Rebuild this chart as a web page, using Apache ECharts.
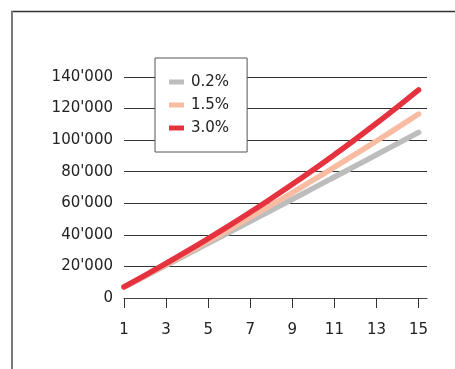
<!DOCTYPE html>
<html>
<head>
<meta charset="utf-8">
<script src="https://cdn.jsdelivr.net/npm/echarts@6/dist/echarts.min.js"></script>
<style>
  html, body { margin: 0; padding: 0; background: #fff; }
  #chart { width: 455px; height: 369px; }
</style>
</head>
<body>
<div id="chart"></div>
<script>
// years 1..15
const years = [1, 2, 3, 4, 5, 6, 7, 8, 9, 10, 11, 12, 13, 14, 15];
const xTicks = [1, 3, 5, 7, 9, 11, 13, 15];

// accumulated balance per rate
const rate02 = [6897, 13807, 20732, 27670, 34622, 41588, 48567, 55560, 62567, 69589, 76624, 83679, 90742, 97819, 104912];
const rate15 = [6986, 14077, 21275, 28580, 35995, 43521, 51160, 58914, 66784, 74771, 82878, 91108, 99461, 107939, 116545];
const rate30 = [7089, 14392, 21913, 29660, 37639, 45858, 54323, 63042, 72023, 81273, 90800, 100614, 110722, 121133, 131857];

const seriesNames = ["0.2%", "1.5%", "3.0%"];
const colors = ["#bdbdbd", "#f9bca3", "#e5323f"];

const font = "DejaVu Sans";

function pairs(vals) {
  return years.map((y, i) => [y, vals[i]]);
}

function fmt(v) {
  return String(v).replace(/\B(?=(\d{3})+(?!\d))/g, "'");
}

const chart = echarts.init(document.getElementById("chart"));

chart.setOption({
  animation: false,
  backgroundColor: "#fff",
  grid: { left: 124, right: 28, top: 77, bottom: 71 },
  graphic: [
    { type: "line", shape: { x1: 11, y1: 11.5, x2: 455, y2: 11.5 }, style: { stroke: "#333", lineWidth: 1.5 } },
    { type: "line", shape: { x1: 12, y1: 11, x2: 12, y2: 369 }, style: { stroke: "#7a7a7a", lineWidth: 2 } }
  ],
  legend: {
    orient: "vertical",
    left: 155,
    top: 58,
    padding: [15, 18, 15, 14],
    backgroundColor: "#fff",
    borderColor: "#555",
    borderWidth: 1,
    itemWidth: 15,
    itemHeight: 5,
    itemGap: 5,
    icon: "rect",
    textStyle: { fontFamily: font, fontSize: 15, color: "#222", lineHeight: 18, padding: [0, 0, 0, 2] },
    data: seriesNames
  },
  xAxis: {
    type: "value",
    min: 1,
    max: 15.4,
    axisLine: { show: true, lineStyle: { color: "#444", width: 1 } },
    axisTick: { show: true, length: 10, lineStyle: { color: "#333" }, customValues: xTicks },
    axisLabel: { fontFamily: font, fontSize: 15, color: "#222", margin: 25, customValues: xTicks },
    splitLine: { show: false }
  },
  yAxis: {
    type: "value",
    min: 0,
    max: 140000,
    interval: 20000,
    axisLine: { show: false },
    axisTick: { show: false },
    axisLabel: { fontFamily: font, fontSize: 15, color: "#222", margin: 11, formatter: fmt },
    splitLine: { show: true, lineStyle: { color: "#333", width: 1 } }
  },
  series: [rate02, rate15, rate30].map((vals, i) => ({
    name: seriesNames[i],
    type: "line",
    data: pairs(vals),
    smooth: true,
    symbol: "none",
    color: colors[i],
    lineStyle: { width: 5.5, color: colors[i], cap: "round" },
    z: 3 + i
  }))
});
</script>
</body>
</html>
